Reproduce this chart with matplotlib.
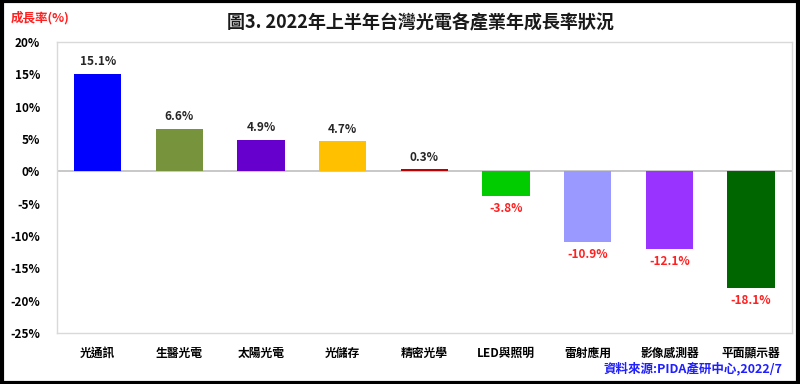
import matplotlib
matplotlib.use("Agg")
import matplotlib.pyplot as plt
from matplotlib.patches import Rectangle

plt.rcParams['font.family'] = ['Noto Sans CJK TC', 'DejaVu Sans']

categories = ["光通訊", "生醫光電", "太陽光電", "光儲存", "精密光學", "LED與照明", "雷射應用", "影像感測器", "平面顯示器"]
values = [15.1, 6.6, 4.9, 4.7, 0.3, -3.8, -10.9, -12.1, -18.1]
colors = ["#0000FF", "#77933C", "#6600CC", "#FFC000", "#C00000", "#00CC00", "#9999FF", "#9933FF", "#006600"]
yticks = [20, 15, 10, 5, 0, -5, -10, -15, -20, -25]

fig = plt.figure(figsize=(8, 3.84), dpi=100)
ax = fig.add_axes([0.071, 0.133, 0.919, 0.758])

x = list(range(len(categories)))
ax.bar(x, values, width=0.58, color=colors, zorder=3)
ax.axhline(0, color="#BFBFBF", lw=1.2, zorder=2)

for xi, v in zip(x, values):
    if v >= 0:
        ax.text(xi, v + 0.8, f"{v:.1f}%", ha="center", va="bottom", fontsize=8.5,
                fontweight="bold", color="#262626")
    else:
        ax.text(xi, v - 0.9, f"{v:.1f}%", ha="center", va="top", fontsize=8.5,
                fontweight="bold", color="#FF2020")

ax.set_xlim(-0.5, len(categories) - 0.5)
ax.set_ylim(-25, 20)
ax.set_yticks(yticks)
ax.set_yticklabels([f"{t}%" for t in yticks], fontsize=8.5, fontweight="bold")
ax.set_xticks(x)
ax.set_xticklabels(categories, fontsize=8.5, fontweight="bold")
ax.tick_params(axis="both", length=0)
ax.tick_params(axis="x", pad=10)
ax.tick_params(axis="y", pad=12)
for s in ax.spines.values():
    s.set_color("#D9D9D9")
    s.set_linewidth(1)

fig.text(0.525, 0.94, "圖3. 2022年上半年台灣光電各產業年成長率狀況", ha="center", va="center",
         fontsize=13, fontweight="bold", color="#1a1a1a")
fig.text(0.013, 0.955, "成長率(%)", ha="left", va="center", fontsize=9,
         fontweight="bold", color="#FF2020")
fig.text(0.978, 0.04, "資料來源:PIDA產研中心,2022/7", ha="right", va="center",
         fontsize=9, fontweight="bold", color="#1F1FFF")

fig.patches.append(Rectangle((0.002, 0.003), 0.996, 0.994, transform=fig.transFigure,
                             fill=False, edgecolor="black", linewidth=3))

fig.savefig("out.png", dpi=100)
